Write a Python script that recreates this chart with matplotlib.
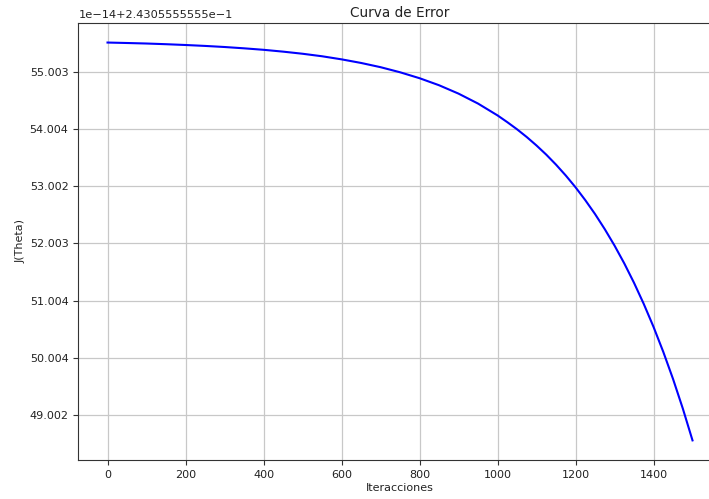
import matplotlib
matplotlib.use("Agg")
import matplotlib.pyplot as plt

# Cost per iteration, in units of 1e-14 above 2.4305555555e-1
iteraciones = (list(range(0, 1000, 50)) + list(range(1000, 1501, 25)))
costo = [55.519, 55.511, 55.502, 55.490, 55.476, 55.460, 55.441, 55.418,
         55.392, 55.360, 55.323, 55.279, 55.225, 55.162, 55.088, 54.999,
         54.895, 54.772, 54.625, 54.451,
         54.244, 54.126, 54.001, 53.865, 53.717, 53.557, 53.382, 53.192,
         52.986, 52.761, 52.518, 52.253, 51.966, 51.654, 51.314, 50.944,
         50.543, 50.106, 49.632, 49.116, 48.556]

ytick_vals = [55.003, 54.004, 53.002, 52.003, 51.004, 50.004, 49.002]
ytick_labels = ["55.003", "54.004", "53.002", "52.003", "51.004", "50.004", "49.002"]
offset_label = "1e\u221214+2.4305555555e\u22121"

fig = plt.figure(figsize=(7.09, 4.99), dpi=100)
ax = fig.add_axes([0.1104, 0.0776, 0.9076, 0.877])

ax.plot(iteraciones, costo, color="blue", linewidth=1.5)

ax.set_xticks([0, 200, 400, 600, 800, 1000, 1200, 1400])
ax.set_yticks(ytick_vals)
ax.set_yticklabels(ytick_labels)
ax.tick_params(labelsize=8, colors="#333333", labelcolor="#222222")
ax.grid(True, color="#c8c8c8", linewidth=0.9)
ax.set_axisbelow(True)
for s in ax.spines.values():
    s.set_color("#333333")
ax.spines["right"].set_visible(False)

ax.text(0.0, 1.005, offset_label, transform=ax.transAxes, ha="left", va="bottom",
        fontsize=8.2, color="#222222")
ax.set_title("Curva de Error", fontsize=9.8, color="#222222", pad=4)
ax.set_xlabel("Iteracciones", fontsize=8, color="#222222", labelpad=2)
ax.set_ylabel("J(Theta)", fontsize=8, color="#222222", labelpad=3)

fig.savefig("out.png", dpi=100)
